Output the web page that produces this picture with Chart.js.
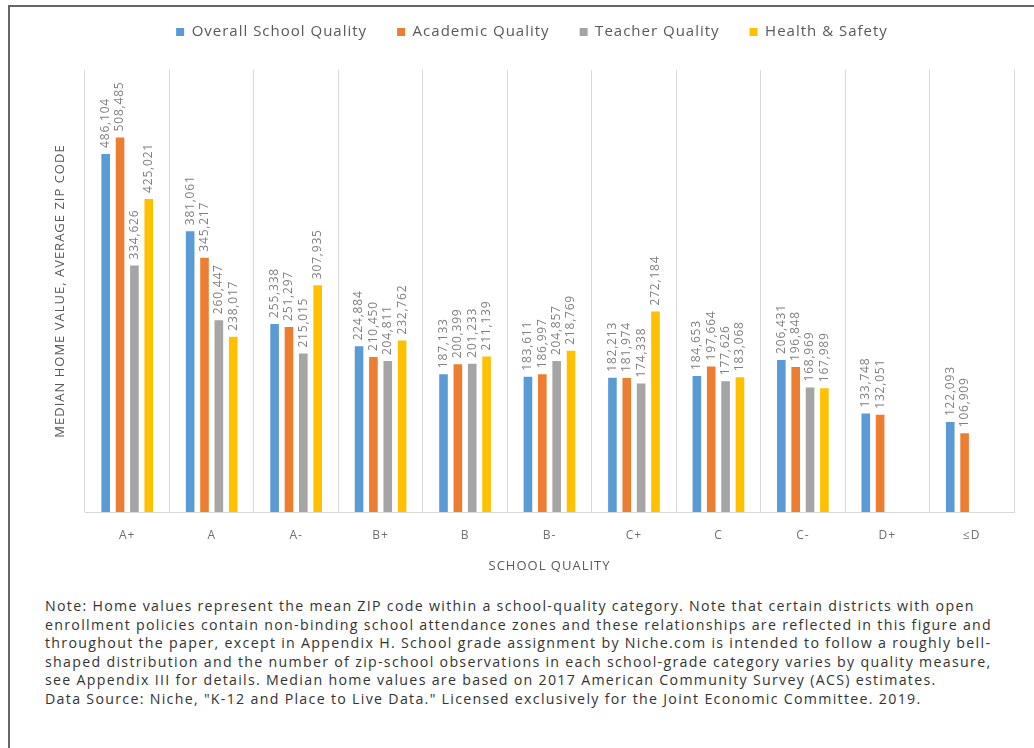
<!DOCTYPE html>
<html lang="en">
<head>
    <meta charset="UTF-8">
    <title>Median Home Value by School Quality</title>
    <script src="https://cdn.jsdelivr.net/npm/chart.js"></script>
    <style>
        body { margin: 0; background: #fff; font-family: "Open Sans", sans-serif; }
        .frame { position: absolute; left: 8px; top: 5px; width: 1040px; height: 760px;
                 border-left: 2px solid #666; border-top: 2px solid #666; }
        .chart-box { position: absolute; left: 0; top: -10px; width: 1034px; height: 600px; }
        .note { position: absolute; left: 45px; top: 597px; font-size: 14.2px; line-height: 18.5px;
                letter-spacing: 1.3px; color: #333; white-space: nowrap; }
    </style>
</head>
<body>
    <div class="frame"></div>
    <div class="chart-box"><canvas id="schoolChart"></canvas></div>
    <div class="note">
        Note: Home values represent the mean ZIP code within a school-quality category. Note that certain districts with open<br>
        enrollment policies contain non-binding school attendance zones and these relationships are reflected in this figure and<br>
        throughout the paper, except in Appendix H. School grade assignment by Niche.com is intended to follow a roughly bell-<br>
        shaped distribution and the number of zip-school observations in each school-grade category varies by quality measure,<br>
        see Appendix III for details. Median home values are based on 2017 American Community Survey (ACS) estimates.<br>
        Data Source: Niche, "K-12 and Place to Live Data." Licensed exclusively for the Joint Economic Committee. 2019.
    </div>

    <script>
        // Chart data
        const grades = ['A+', 'A', 'A-', 'B+', 'B', 'B-', 'C+', 'C', 'C-', 'D+', '≤D'];
        const overallQuality = [486104, 381061, 255338, 224884, 187133, 183611, 182213, 184653, 206431, 133748, 122093];
        const academicQuality = [508485, 345217, 251297, 210450, 200399, 186997, 181974, 197664, 196848, 132051, 106909];
        const teacherQuality = [334626, 260447, 215015, 204811, 201233, 204857, 174338, 177626, 168969, null, null];
        const healthSafety = [425021, 238017, 307935, 232762, 211139, 218769, 272184, 183068, 167989, null, null];

        // wide lettering like the original figure
        const spacing = {
            id: 'spacing',
            beforeLayout(chart) { chart.ctx.letterSpacing = '1px'; },
            beforeDraw(chart) { chart.ctx.letterSpacing = '1px'; }
        };

        // Vertical value labels above each bar
        const barLabels = {
            id: 'barLabels',
            afterDatasetsDraw(chart) {
                const ctx = chart.ctx;
                ctx.save();
                ctx.letterSpacing = '0.8px';
                ctx.font = '12px "Open Sans"';
                ctx.fillStyle = '#808080';
                ctx.textAlign = 'left';
                ctx.textBaseline = 'middle';
                chart.data.datasets.forEach((ds, i) => {
                    chart.getDatasetMeta(i).data.forEach((bar, j) => {
                        const v = ds.data[j];
                        if (v == null) return;
                        ctx.save();
                        ctx.translate(bar.x, bar.y - 6);
                        ctx.rotate(-Math.PI / 2);
                        ctx.fillText(v.toLocaleString('en-US'), 0, 0);
                        ctx.restore();
                    });
                });
                ctx.restore();
            }
        };

        // Make room under the legend
        const legendSpace = {
            id: 'legendSpace',
            beforeInit(chart) {
                const fit = chart.legend.fit;
                chart.legend.fit = function () {
                    fit.bind(chart.legend)();
                    this.height = 75.5;
                };
            }
        };

        new Chart(document.getElementById('schoolChart'), {
            type: 'bar',
            data: {
                labels: grades,
                datasets: [
                    { label: 'Overall School Quality', data: overallQuality, backgroundColor: '#5b9bd5' },
                    { label: 'Academic Quality', data: academicQuality, backgroundColor: '#ed7d31' },
                    { label: 'Teacher Quality', data: teacherQuality, backgroundColor: '#a5a5a5' },
                    { label: 'Health & Safety', data: healthSafety, backgroundColor: '#ffc000' }
                ]
            },
            options: {
                responsive: true,
                maintainAspectRatio: false,
                animation: false,
                datasets: { bar: { categoryPercentage: 0.68, barPercentage: 0.6 } },
                layout: { padding: { left: 50, right: 20, top: 4.5, bottom: 0 } },
                plugins: {
                    legend: {
                        position: 'top',
                        labels: {
                            boxWidth: 8, boxHeight: 8, padding: 30,
                            color: '#595959',
                            font: { family: 'Open Sans', size: 15 }
                        }
                    },
                    tooltip: { enabled: false }
                },
                scales: {
                    x: {
                        grid: { display: true, offset: true, color: '#d9d9d9', drawTicks: false },
                        border: { color: '#d9d9d9' },
                        ticks: { color: '#6f6f6f', padding: 16, font: { family: 'Open Sans', size: 12 } },
                        title: {
                            display: true, text: 'SCHOOL QUALITY', color: '#595959',
                            font: { family: 'Open Sans', size: 13 },
                            padding: { top: 0, bottom: 16 }
                        },
                        afterFit(scale) { scale.height = 78; }
                    },
                    y: {
                        min: 0, max: 600000,
                        grid: { display: false },
                        border: { display: false },
                        ticks: { display: false },
                        title: {
                            display: true, text: 'MEDIAN HOME VALUE, AVERAGE ZIP CODE', color: '#595959',
                            font: { family: 'Open Sans', size: 13 },
                            padding: { top: 2, bottom: 0 }
                        },
                        afterFit(scale) { scale.width = 35; }
                    }
                }
            },
            plugins: [spacing, barLabels, legendSpace]
        });
    </script>
</body>
</html>
